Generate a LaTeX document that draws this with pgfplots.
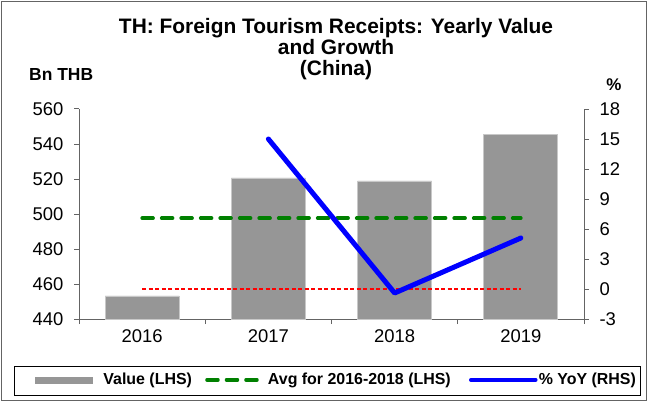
\documentclass[border=0pt]{standalone}
\usepackage{pgfplots}
\pgfplotsset{compat=1.18}
\usepackage{fontspec}
\setmainfont{Liberation Sans}
\definecolor{bargray}{RGB}{150,150,150}
\definecolor{baredge}{RGB}{200,200,200}
\definecolor{avggreen}{RGB}{0,128,0}
\definecolor{axgray}{RGB}{100,100,100}
\begin{document}
\begin{tikzpicture}[x=1bp,y=1bp]
\path[use as bounding box] (0,0) rectangle (648,401);
\draw[line width=1.2bp, axgray] (1.5,0.6) rectangle (646.5,399.4);
\node[align=center, font=\fontsize{21}{21}\selectfont\bfseries] at (336,352) {TH: Foreign Tourism Receipts: Yearly Value\\and Growth\\(China)};
\node[anchor=west, font=\fontsize{17.5}{19}\selectfont\bfseries, inner sep=0] at (29,326) {Bn THB};
\node[font=\fontsize{17}{19}\selectfont\bfseries, inner sep=0] at (614,316) {\%};
\draw[line width=0.8bp, black] (14,6) rectangle (640,35);
\begin{axis}[
  at={(79bp,82bp)}, anchor=south west, scale only axis,
  width=505bp, height=210bp,
  xmin=-0.5, xmax=3.5, ymin=440, ymax=560,
  axis y line*=left, axis x line*=bottom,
  axis line style={axgray, line width=1bp},
  xtick={0,1,2,3}, xticklabels={2016,2017,2018,2019},
  major x tick style={draw=none},
  minor xtick={-0.5,0.5,1.5,2.5,3.5},
  minor tick length=5bp, major tick length=5bp,
  tick align=outside,
  tick style={axgray, line width=1bp},
  ytick={440,460,480,500,520,540,560},
  yticklabels={440,460,480,500,520,540,560},
  ticklabel style={font=\fontsize{18.5}{20}\selectfont},
  yticklabel style={xshift=-7bp},
  xticklabel style={yshift=-2bp},
  clip=false,
]
\addplot[ybar, bar width=74bp, fill=bargray, draw=baredge, line width=0.8bp] coordinates {(0,453.2) (1,520.6) (2,518.9) (3,545.7)};
\addplot[avggreen, line width=3.5bp, line cap=round, dash pattern=on 11bp off 8.5bp] coordinates {(0,497.6) (3,497.6)};
\end{axis}
\begin{axis}[
  at={(79bp,82bp)}, anchor=south west, scale only axis,
  width=505bp, height=210bp,
  xmin=-0.5, xmax=3.5, ymin=-3, ymax=18,
  axis y line*=right, axis x line=none,
  axis line style={axgray, line width=1bp},
  ytick={-3,0,3,6,9,12,15,18},
  yticklabels={-3,0,3,6,9,12,15,18},
  tick align=outside, major tick length=5bp,
  tick style={axgray, line width=1bp},
  ticklabel style={font=\fontsize{18.5}{20}\selectfont},
  yticklabel style={xshift=7bp},
  clip=false,
  legend style={at={(-0.0871,-0.29)}, anchor=west, draw=none, fill=none,
    inner sep=0bp,
    legend columns=3, font=\fontsize{16}{18}\selectfont\bfseries,
    nodes={inner xsep=0bp},
    /tikz/every odd column/.append style={column sep=0bp},
    /tikz/every even column/.append style={column sep=13bp}},
  legend cell align=left,
]
\addlegendimage{legend image code/.code={\fill[bargray] (0bp,-3bp) rectangle (57bp,3bp); \path[draw=none,fill=none] (0bp,0) -- (68bp,0);}}
\addlegendentry{Value (LHS)}
\addlegendimage{legend image code/.code={\draw[avggreen, line width=3.5bp, line cap=round, dash pattern=on 11bp off 8.5bp] (2bp,0) -- (58bp,0); \path[draw=none,fill=none] (0bp,0) -- (63bp,0);}}
\addlegendentry{Avg for 2016-2018 (LHS)}
\addplot[red, line width=2bp, dash pattern=on 4bp off 2.5bp, forget plot] coordinates {(0,0) (3,0)};
\addplot[blue, line width=5bp, line cap=round, line join=round, legend image code/.code={\path[draw=none,fill=none] (-7bp,0) -- (68bp,0); \draw[blue, line width=3.5bp] (0bp,0) -- (65bp,0);}] coordinates {(1,15.0) (2,-0.4) (3,5.1)};
\addlegendentry{\% YoY (RHS)}
\end{axis}
\end{tikzpicture}
\end{document}
